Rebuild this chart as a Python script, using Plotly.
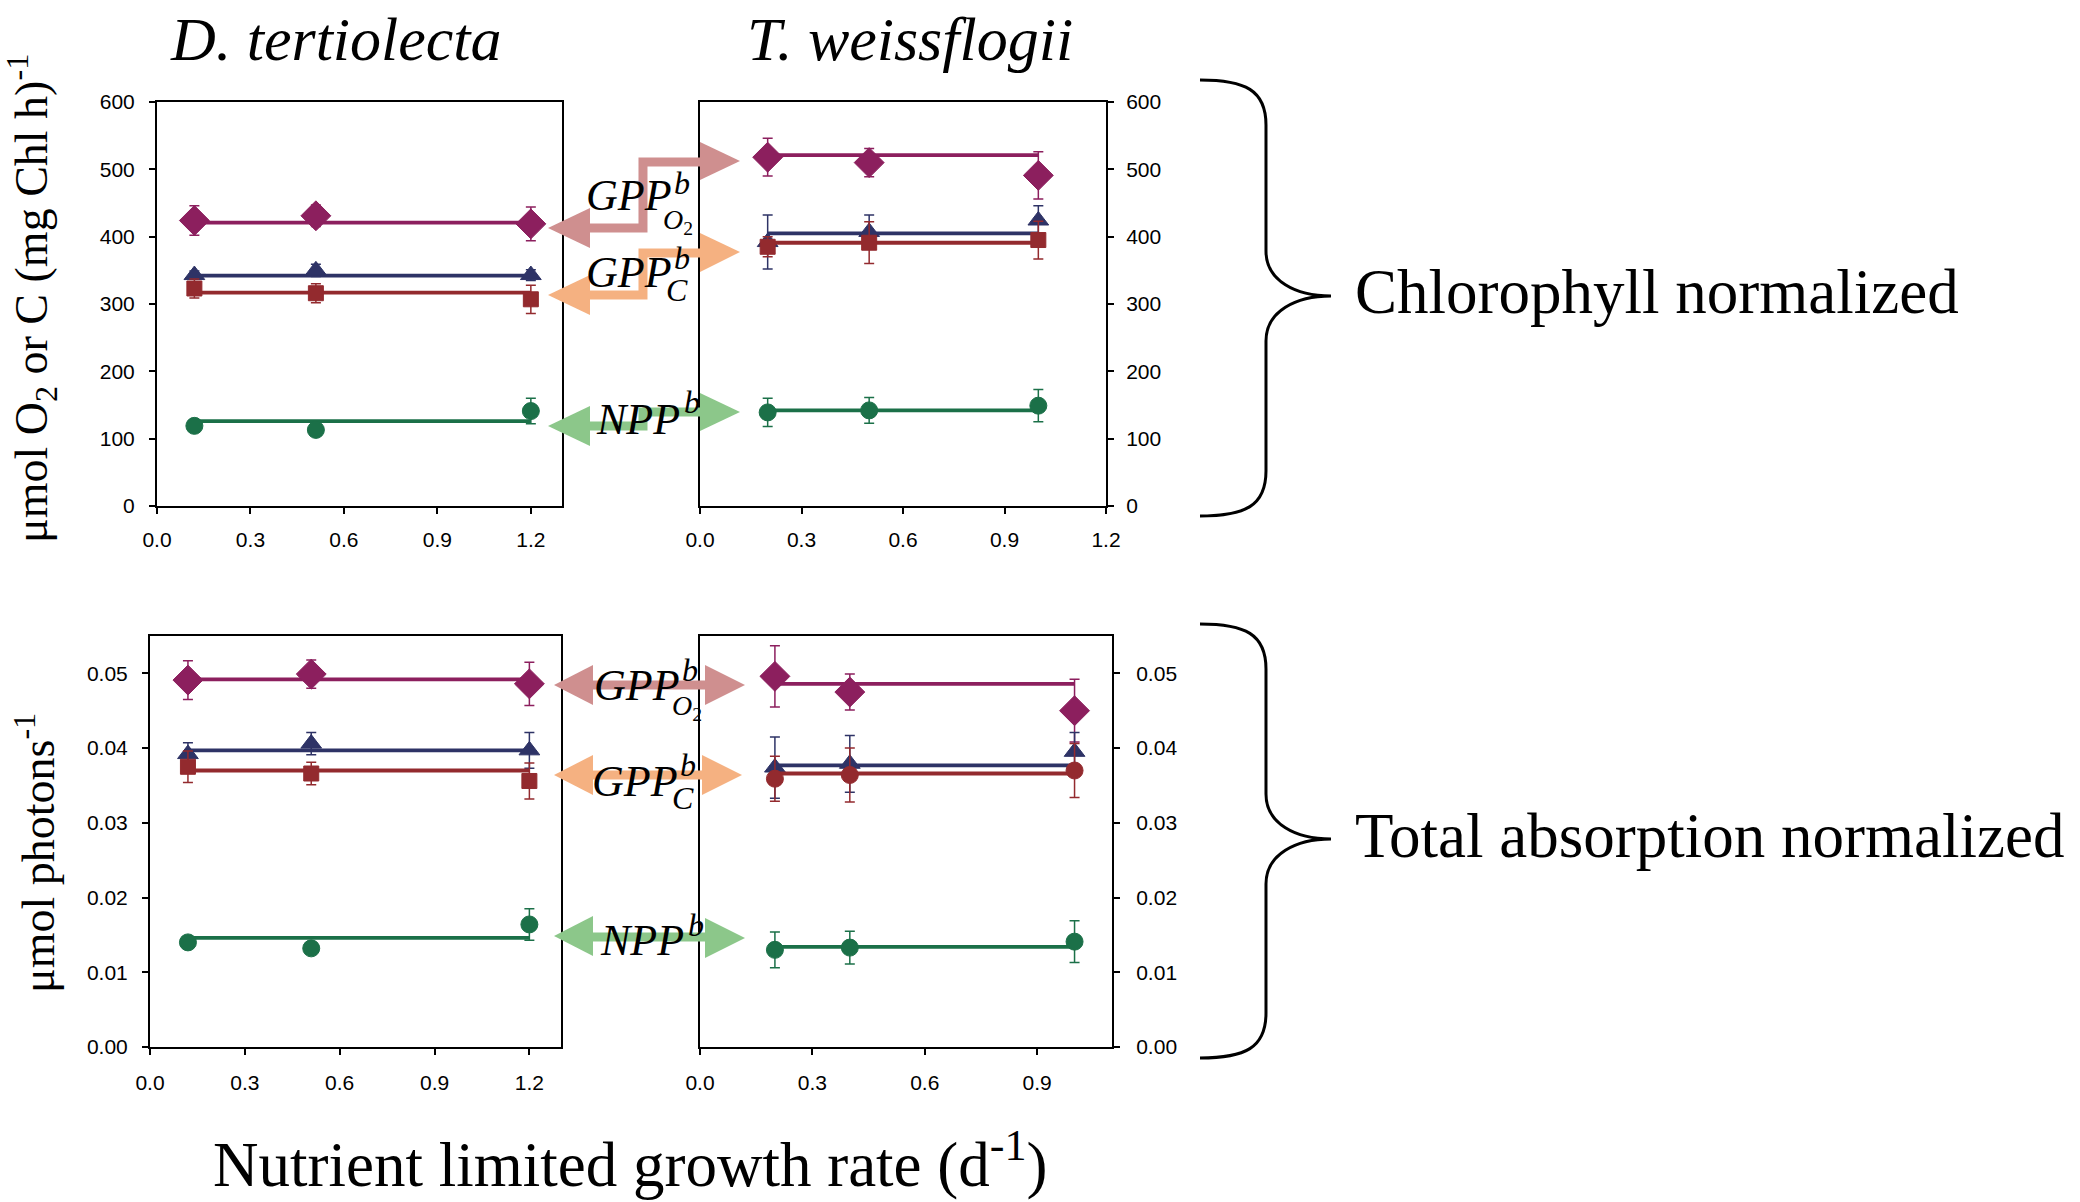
import plotly.graph_objects as go

W, H = 2080, 1202

# ---------------- data ----------------
# D. tertiolecta, chlorophyll normalized
dt_chl_x = [0.12, 0.51, 1.20]
dt_chl_gppo2 = [424, 431, 419]
dt_chl_gppo2_err = [22, 16, 25]
dt_chl_gppo2_fit = 421
dt_chl_tri = [343, 350, 343]
dt_chl_tri_err = [6, 9, 8]
dt_chl_tri_fit = 342
dt_chl_sq = [323, 316, 307]
dt_chl_sq_err = [14, 14, 21]
dt_chl_sq_fit = 317
dt_chl_npp = [119, 113, 141]
dt_chl_npp_err = [0, 0, 19]
dt_chl_npp_fit = 126

# T. weissflogii, chlorophyll normalized
tw_chl_x = [0.20, 0.50, 1.00]
tw_chl_gppo2 = [518, 510, 491]
tw_chl_gppo2_err = [28, 21, 35]
tw_chl_gppo2_fit = 521
tw_chl_tri = [392, 407, 424]
tw_chl_tri_err = [40, 25, 22]
tw_chl_tri_fit = 405
tw_chl_sq = [385, 391, 395]
tw_chl_sq_err = [15, 31, 28]
tw_chl_sq_fit = 391
tw_chl_npp = [139, 142, 149]
tw_chl_npp_err = [21, 19, 24]
tw_chl_npp_fit = 142

# D. tertiolecta, total absorption normalized
dt_abs_x = [0.12, 0.51, 1.20]
dt_abs_gppo2 = [0.0491, 0.0499, 0.0486]
dt_abs_gppo2_err = [0.0026, 0.0019, 0.0029]
dt_abs_gppo2_fit = 0.0492
dt_abs_tri = [0.0392, 0.0406, 0.0397]
dt_abs_tri_err = [0.0015, 0.0015, 0.0024]
dt_abs_tri_fit = 0.0397
dt_abs_sq = [0.0375, 0.0366, 0.0356]
dt_abs_sq_err = [0.0021, 0.0015, 0.0024]
dt_abs_sq_fit = 0.0370
dt_abs_npp = [0.0140, 0.0132, 0.0164]
dt_abs_npp_err = [0, 0, 0.0021]
dt_abs_npp_fit = 0.0146

# T. weissflogii, total absorption normalized
tw_abs_x = [0.20, 0.40, 1.00]
tw_abs_gppo2 = [0.0496, 0.0475, 0.0450]
tw_abs_gppo2_err = [0.0041, 0.0024, 0.0042]
tw_abs_gppo2_fit = 0.0486
tw_abs_tri = [0.0374, 0.0379, 0.0395]
tw_abs_tri_err = [0.0041, 0.0038, 0.0026]
tw_abs_tri_fit = 0.0377
tw_abs_sq = [0.0359, 0.0364, 0.0370]
tw_abs_sq_err = [0.0030, 0.0036, 0.0036]
tw_abs_sq_fit = 0.0366
tw_abs_npp = [0.0130, 0.0133, 0.0141]
tw_abs_npp_err = [0.0024, 0.0022, 0.0028]
tw_abs_npp_fit = 0.0134

# ---------------- styles ----------------
C_O2 = "#8C1F5E"
C_TRI = "#2E3366"
C_SQ = "#932A2E"
C_NPP = "#1B7048"

fig = go.Figure()


def add_series(xax, yax, x, y, err, fit, color, symbol, size, lw=3.8):
    fig.add_trace(go.Scatter(
        x=[x[0], x[-1]], y=[fit, fit], mode="lines",
        line=dict(color=color, width=lw), xaxis=xax, yaxis=yax,
        showlegend=False, hoverinfo="skip"))
    fig.add_trace(go.Scatter(
        x=x, y=y, mode="markers",
        marker=dict(color=color, symbol=symbol, size=size,
                    line=dict(color=color, width=1)),
        error_y=dict(type="data", array=err, color=color, thickness=1.5, width=5),
        xaxis=xax, yaxis=yax, showlegend=False))


panels = [
    ("x", "y", dt_chl_x,
     [(dt_chl_gppo2, dt_chl_gppo2_err, dt_chl_gppo2_fit, C_O2, "diamond", 23),
      (dt_chl_tri, dt_chl_tri_err, dt_chl_tri_fit, C_TRI, "triangle-up", 18),
      (dt_chl_sq, dt_chl_sq_err, dt_chl_sq_fit, C_SQ, "square", 15),
      (dt_chl_npp, dt_chl_npp_err, dt_chl_npp_fit, C_NPP, "circle", 17)]),
    ("x2", "y2", tw_chl_x,
     [(tw_chl_gppo2, tw_chl_gppo2_err, tw_chl_gppo2_fit, C_O2, "diamond", 23),
      (tw_chl_tri, tw_chl_tri_err, tw_chl_tri_fit, C_TRI, "triangle-up", 18),
      (tw_chl_sq, tw_chl_sq_err, tw_chl_sq_fit, C_SQ, "square", 15),
      (tw_chl_npp, tw_chl_npp_err, tw_chl_npp_fit, C_NPP, "circle", 17)]),
    ("x3", "y3", dt_abs_x,
     [(dt_abs_gppo2, dt_abs_gppo2_err, dt_abs_gppo2_fit, C_O2, "diamond", 23),
      (dt_abs_tri, dt_abs_tri_err, dt_abs_tri_fit, C_TRI, "triangle-up", 18),
      (dt_abs_sq, dt_abs_sq_err, dt_abs_sq_fit, C_SQ, "square", 15),
      (dt_abs_npp, dt_abs_npp_err, dt_abs_npp_fit, C_NPP, "circle", 17)]),
    ("x4", "y4", tw_abs_x,
     [(tw_abs_gppo2, tw_abs_gppo2_err, tw_abs_gppo2_fit, C_O2, "diamond", 23),
      (tw_abs_tri, tw_abs_tri_err, tw_abs_tri_fit, C_TRI, "triangle-up", 18),
      (tw_abs_sq, tw_abs_sq_err, tw_abs_sq_fit, C_SQ, "circle", 17),
      (tw_abs_npp, tw_abs_npp_err, tw_abs_npp_fit, C_NPP, "circle", 17)]),
]

for xax, yax, xs, series in panels:
    for y, e, f, c, s, sz in series:
        add_series(xax, yax, xs, y, e, f, c, s, sz)

TICKFONT = dict(family="Liberation Sans, Arial", size=21, color="black")
SERIF = "Liberation Serif, Times New Roman, serif"


def ax(**kw):
    d = dict(showline=True, linecolor="black", linewidth=2, mirror=True,
             ticks="outside", ticklen=6, tickwidth=2, tickcolor="black",
             showgrid=False, zeroline=False, tickfont=TICKFONT,
             automargin=False)
    d.update(kw)
    return d


def dx(a, b):
    return [a / W, b / W]


def dy(top, bot):
    return [1 - bot / H, 1 - top / H]


fig.update_layout(
    width=W, height=H, margin=dict(l=0, r=0, t=0, b=0, pad=0),
    paper_bgcolor="white", plot_bgcolor="white", showlegend=False,
    xaxis=ax(domain=dx(157, 562), range=[0, 1.3], tick0=0, dtick=0.3,
             tickformat=".1f", anchor="y", ticklabelstandoff=8),
    yaxis=ax(domain=dy(102, 506), range=[0, 600], dtick=100, anchor="x",
             ticklabelstandoff=10),
    xaxis2=ax(domain=dx(700, 1106), range=[0, 1.2], tick0=0, dtick=0.3,
              tickformat=".1f", anchor="y2", ticklabelstandoff=8),
    yaxis2=ax(domain=dy(102, 506), range=[0, 600], dtick=100, anchor="x2",
              side="right", ticklabelstandoff=8),
    xaxis3=ax(domain=dx(150, 561), range=[0, 1.3], tick0=0, dtick=0.3,
              tickformat=".1f", anchor="y3", ticklabelstandoff=10),
    yaxis3=ax(domain=dy(636, 1047), range=[0, 0.055], dtick=0.01,
              tickformat=".2f", anchor="x3", ticklabelstandoff=10),
    xaxis4=ax(domain=dx(700, 1112), range=[0, 1.1], tick0=0, dtick=0.3,
              tickformat=".1f", anchor="y4", ticklabelstandoff=10),
    yaxis4=ax(domain=dy(636, 1047), range=[0, 0.055], dtick=0.01,
              tickformat=".2f", anchor="x4", side="right", ticklabelstandoff=12),
)


def P(x, y):
    return f"{x / W:.5f},{1 - y / H:.5f}"


shapes = []


def shaft(points, color, width=9):
    d = "M " + " L ".join(P(x, y) for x, y in points)
    shapes.append(dict(type="path", xref="paper", yref="paper", path=d,
                       line=dict(color=color, width=width),
                       fillcolor="rgba(0,0,0,0)", layer="above"))


def head(tip, bx, y1, y2, color):
    d = f"M {P(*tip)} L {P(bx, y1)} L {P(bx, y2)} Z"
    shapes.append(dict(type="path", xref="paper", yref="paper", path=d,
                       fillcolor=color, line=dict(width=0), layer="above"))


A_O2 = "#CF8F8F"
A_C = "#F5B181"
A_NPP = "#8CC78A"

# top arrows (stepped)
shaft([(588, 228), (643, 228), (643, 162), (702, 162)], A_O2)
head((548, 228), 590, 208, 248, A_O2)
head((740, 161), 700, 142, 180, A_O2)

shaft([(588, 295), (643, 295), (643, 253), (702, 253)], A_C)
head((548, 295), 590, 275, 315, A_C)
head((740, 252), 700, 233, 272, A_C)

shaft([(588, 426), (643, 426), (643, 412), (702, 412)], A_NPP)
head((548, 426), 590, 406, 446, A_NPP)
head((740, 412), 700, 393, 431, A_NPP)

# bottom arrows (straight)
shaft([(590, 685), (707, 685)], A_O2)
head((554, 685), 593, 665, 705, A_O2)
head((745, 685), 705, 665, 705, A_O2)

shaft([(590, 775), (704, 775)], A_C)
head((554, 775), 593, 755, 795, A_C)
head((742, 775), 702, 755, 795, A_C)

shaft([(590, 937), (707, 937)], A_NPP)
head((554, 936), 593, 916, 956, A_NPP)
head((745, 938), 705, 918, 958, A_NPP)


def brace(x0, xm, xt, ytop, ytip, ybot):
    r = 45
    d = (f"M {P(x0, ytop)} C {P(x0 + 45, ytop)} {P(xm, ytop + 10)} {P(xm, ytop + r)} "
         f"L {P(xm, ytip - r)} C {P(xm, ytip - 15)} {P(xm + 30, ytip)} {P(xt, ytip)} "
         f"C {P(xm + 30, ytip)} {P(xm, ytip + 15)} {P(xm, ytip + r)} "
         f"L {P(xm, ybot - r)} C {P(xm, ybot - 10)} {P(x0 + 45, ybot)} {P(x0, ybot)}")
    shapes.append(dict(type="path", xref="paper", yref="paper", path=d,
                       line=dict(color="black", width=3),
                       fillcolor="rgba(0,0,0,0)"))


brace(1200, 1266, 1331, 80, 296, 516)
brace(1200, 1266, 1331, 624, 839, 1058)

fig.update_layout(shapes=shapes)

ann = []


def text(x, y, s, size, xanchor="center", yanchor="middle", angle=0):
    ann.append(dict(x=x / W, y=1 - y / H, xref="paper", yref="paper",
                    text=s, showarrow=False, xanchor=xanchor, yanchor=yanchor,
                    textangle=angle,
                    font=dict(family=SERIF, size=size, color="black")))


text(336, 39, "<i>D. tertiolecta</i>", 62)
text(910, 39, "<i>T. weissflogii</i>", 62)
text(31, 299, "μmol O<sub>2</sub> or C (mg Chl h)<sup>-1</sup>", 46, angle=-90)
text(35, 853, "μmol photons<sup>-1</sup>", 46, angle=-90)
text(630, 1160, "Nutrient limited growth rate (d<sup>-1</sup>)", 63)
text(1353, 292, "Chlorophyll normalized", 63, xanchor="left")
text(1353, 836, "Total absorption normalized", 63, xanchor="left")

# arrow labels
LBL = 44
SUPS = 32
text(584, 196, "<i>GPP</i>", LBL, xanchor="left")
text(672, 183, "<i>b</i>", SUPS, xanchor="left")
text(661, 221, "<i>O</i><sub>2</sub>", 28, xanchor="left")

text(584, 272, "<i>GPP</i>", LBL, xanchor="left")
text(672, 258, "<i>b</i>", SUPS, xanchor="left")
text(664, 290, "<i>C</i>", 32, xanchor="left")

text(594, 419, "<i>NPP</i>", LBL, xanchor="left")
text(682, 402, "<i>b</i>", SUPS, xanchor="left")

text(592, 685, "<i>GPP</i>", LBL, xanchor="left")
text(680, 670, "<i>b</i>", SUPS, xanchor="left")
text(670, 707, "<i>O</i><sub>2</sub>", 28, xanchor="left")

text(590, 781, "<i>GPP</i>", LBL, xanchor="left")
text(678, 765, "<i>b</i>", SUPS, xanchor="left")
text(670, 798, "<i>C</i>", 32, xanchor="left")

text(598, 940, "<i>NPP</i>", LBL, xanchor="left")
text(686, 925, "<i>b</i>", SUPS, xanchor="left")

fig.update_layout(annotations=ann)

fig.write_html("out.html")
